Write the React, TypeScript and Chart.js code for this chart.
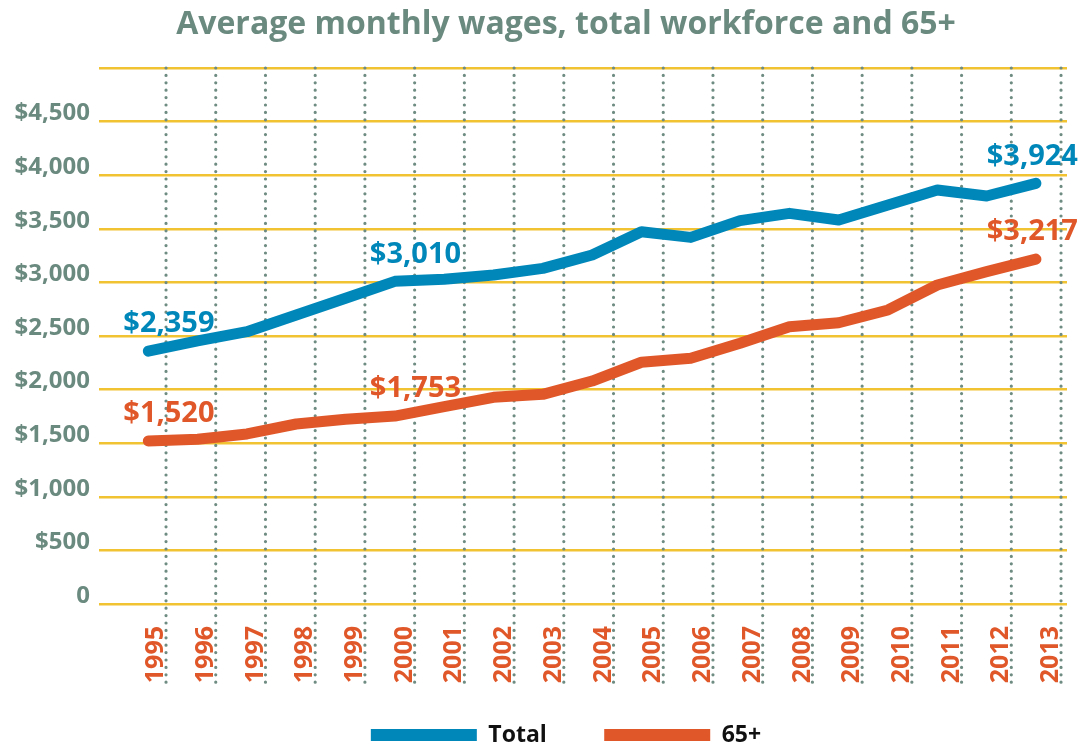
import React, { useEffect, useRef } from 'react';
import { Chart, registerables } from 'chart.js';

Chart.register(...registerables);

const years = [1995, 1996, 1997, 1998, 1999, 2000, 2001, 2002, 2003, 2004, 2005, 2006, 2007, 2008, 2009, 2010, 2011, 2012, 2013];
const totalWages = [2359, 2455, 2540, 2696, 2852, 3010, 3029, 3069, 3131, 3255, 3473, 3420, 3576, 3644, 3582, 3722, 3862, 3806, 3924];
const wages65 = [1520, 1536, 1586, 1679, 1723, 1753, 1841, 1928, 1956, 2080, 2255, 2292, 2432, 2587, 2624, 2743, 2976, 3100, 3217];
const yTickValues = [0, 500, 1000, 1500, 2000, 2500, 3000, 3500, 4000, 4500, 5000];
const labelledIndices = [0, 5, 18];
const seriesNames = ['Total', '65+'];

const BLUE = '#0087ba';
const ORANGE = '#e0582a';
const GREY = '#6b8a7f';
const YELLOW = '#f1c232';
const FONT = "'Open Sans', sans-serif";

const money = (v: number) => '$' + v.toLocaleString('en-US');
const yLabel = (v: number) => (v === 5000 ? '' : v === 0 ? '0' : money(v));

const dottedGrid = {
  id: 'dottedGrid',
  beforeDatasetsDraw(chart: any) {
    const scale = chart.scales.xl;
    const { top, bottom } = chart.chartArea;
    const ctx = chart.ctx;
    ctx.save();
    ctx.strokeStyle = '#6f8c82';
    ctx.lineWidth = 3.2;
    ctx.lineCap = 'round';
    ctx.setLineDash([0, 7.4]);
    scale.ticks.forEach((_t: any, i: number) => {
      const x = scale.getPixelForTick(i);
      ctx.beginPath();
      ctx.moveTo(x, top);
      ctx.lineTo(x, bottom + 82);
      ctx.stroke();
    });
    ctx.restore();
  },
};

const valueLabels = {
  id: 'valueLabels',
  afterDatasetsDraw(chart: any) {
    const ctx = chart.ctx;
    ctx.save();
    ctx.font = `bold 29px ${FONT}`;
    ctx.textBaseline = 'middle';
    chart.data.datasets.forEach((ds: any, di: number) => {
      const meta = chart.getDatasetMeta(di);
      ctx.fillStyle = ds.borderColor;
      labelledIndices.forEach((idx, k) => {
        const pt = meta.data[idx];
        const v = ds.data[idx].y;
        const last = k === labelledIndices.length - 1;
        ctx.textAlign = last ? 'right' : 'left';
        ctx.fillText(money(v), last ? pt.x + 42 : pt.x - 25, pt.y - 27);
      });
    });
    ctx.restore();
  },
};

export default function App() {
  const ref = useRef<HTMLCanvasElement>(null);
  useEffect(() => {
    if (!ref.current) return;
    const mctx = document.createElement('canvas').getContext('2d') as CanvasRenderingContext2D;
    mctx.font = `normal bold 24px ${FONT}`;
    const widest = Math.max(...yTickValues.map((v) => mctx.measureText(yLabel(v)).width));

    const chart = new Chart(ref.current, {
      type: 'line',
      data: {
        datasets: [
          {
            label: seriesNames[0],
            data: years.map((y, i) => ({ x: y, y: totalWages[i] })),
            borderColor: BLUE,
            backgroundColor: BLUE,
            borderWidth: 11,
            borderCapStyle: 'round',
            borderJoinStyle: 'round',
            pointRadius: 0,
            tension: 0,
            xAxisID: 'x',
            yAxisID: 'y',
          },
          {
            label: seriesNames[1],
            data: years.map((y, i) => ({ x: y, y: wages65[i] })),
            borderColor: ORANGE,
            backgroundColor: ORANGE,
            borderWidth: 11,
            borderCapStyle: 'round',
            borderJoinStyle: 'round',
            pointRadius: 0,
            tension: 0,
            xAxisID: 'x',
            yAxisID: 'y',
          },
        ],
      },
      options: {
        responsive: false,
        animation: false,
        devicePixelRatio: 1,
        layout: { padding: { left: 65, right: 14, top: 0, bottom: 0 } },
        scales: {
          x: {
            type: 'linear',
            display: false,
            min: 1994,
            max: 2013.63,
          },
          xl: {
            type: 'linear',
            position: 'bottom',
            min: 1993.652,
            max: 2013.12,
            afterBuildTicks: (axis: any) => {
              axis.ticks = years.map((v) => ({ value: v }));
            },
            afterFit: (scale: any) => {
              scale.height = 80;
              scale.paddingLeft = 0;
              scale.paddingRight = 0;
            },
            grid: { display: false, drawTicks: false },
            border: { display: false },
            ticks: {
              autoSkip: false,
              minRotation: 90,
              maxRotation: 90,
              padding: 22,
              labelOffset: -10,
              color: ORANGE,
              font: { size: 25, weight: 'bold', family: FONT },
              callback: (v: any) => String(v),
            },
          },
          y: {
            type: 'linear',
            min: 0,
            max: 5000,
            afterBuildTicks: (axis: any) => {
              axis.ticks = yTickValues.map((v) => ({ value: v }));
            },
            afterFit: (scale: any) => {
              scale.width = 34;
              scale.paddingTop = 0;
              scale.paddingBottom = 0;
            },
            grid: { color: YELLOW, lineWidth: 2.5, drawTicks: false },
            border: { display: false },
            ticks: {
              mirror: true,
              crossAlign: 'far',
              padding: -9 - widest,
              labelOffset: -8,
              color: GREY,
              font: { size: 24, weight: 'bold', family: FONT },
              callback: (v: any) => yLabel(v),
            },
          },
        },
        plugins: {
          title: {
            display: true,
            text: 'Average monthly wages, total workforce and 65+',
            color: GREY,
            font: { size: 32, weight: 'bold', family: FONT },
            padding: { top: 5.8, bottom: 23.8 },
          },
          legend: {
            position: 'bottom',
            maxHeight: 64,
            labels: {
              boxWidth: 106,
              boxHeight: 12,
              padding: 39.5,
              color: '#111111',
              font: { size: 23, weight: 'bold', family: FONT },
              generateLabels: (c: any) =>
                Chart.defaults.plugins.legend.labels.generateLabels(c).map((l: any, i: number) => ({
                  ...l,
                  text: i === 0 ? l.text + '\u00a0\u00a0\u00a0' : l.text,
                  lineWidth: 0,
                  fillStyle: c.data.datasets[l.datasetIndex].borderColor,
                })),
            },
          },
          tooltip: { enabled: false },
        },
      } as any,
      plugins: [dottedGrid, valueLabels],
    });
    return () => chart.destroy();
  }, []);

  return (
    <div style={{ position: 'absolute', left: 0, top: 0, width: 1081, height: 748, background: '#ffffff', overflow: 'hidden' }}>
      <canvas ref={ref} width={1081} height={748} />
    </div>
  );
}
